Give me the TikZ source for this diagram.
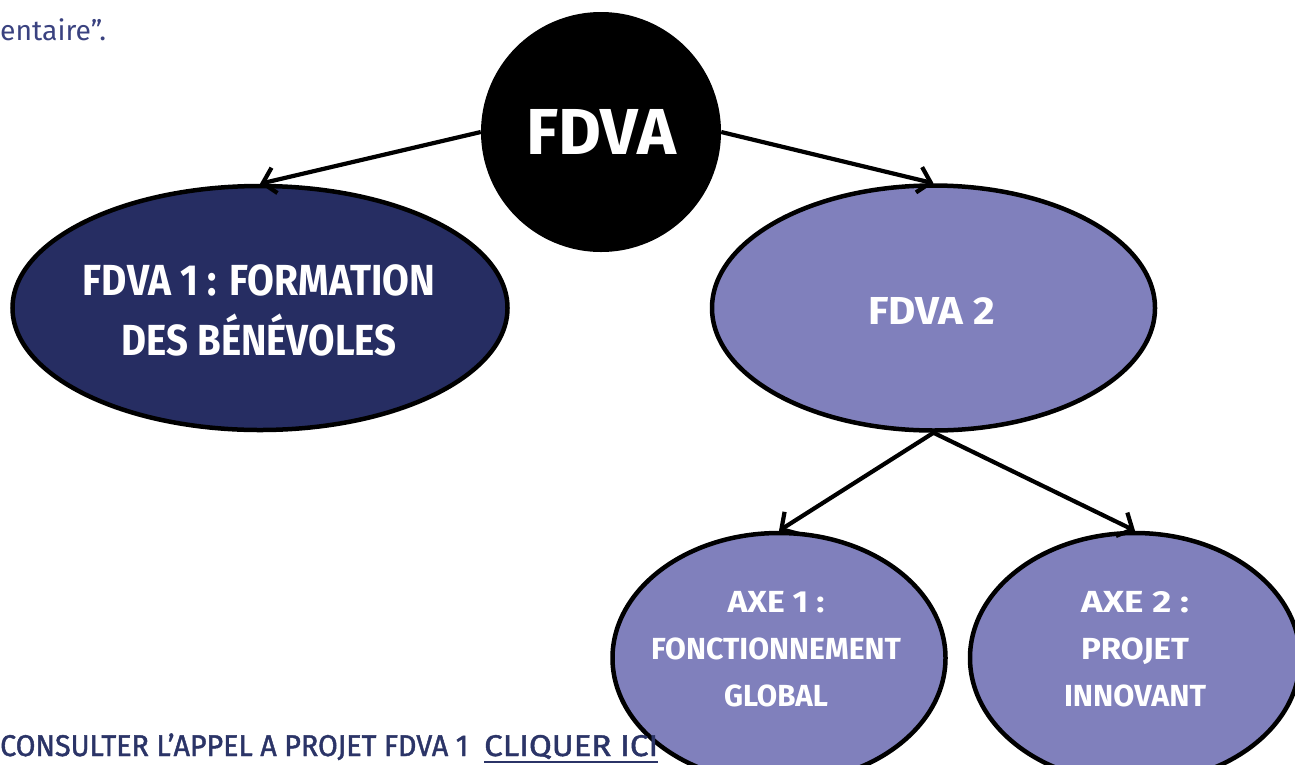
\documentclass[tikz,border=0pt]{standalone}
\usepackage{graphicx}
\usepackage{fontspec}
\setmainfont{Fira Sans}
\newfontfamily\footfont{Fira Sans}[FakeBold=1.5]
\usetikzlibrary{shapes.geometric,arrows.meta}
\definecolor{navy}{RGB}{38,45,98}
\definecolor{lav}{RGB}{128,128,188}
\definecolor{ink}{RGB}{43,52,103}
\definecolor{inklight}{RGB}{58,66,128}
\newcommand{\fitw}[2]{\resizebox{#1}{\height}{#2}}
\tikzset{
  bubble/.style={ellipse, draw=black, line width=4.5pt, inner sep=0pt},
  btext/.style={text=white, align=center, inner sep=0pt},
  conn/.style={line width=4.2pt, -{Straight Barb[length=12pt,width=26pt,line width=4.2pt]}},
  foot/.style={anchor=base west, inner sep=0pt, text=ink, font=\footfont\fontsize{30pt}{30pt}\selectfont},
}
\begin{document}
\begin{tikzpicture}[x={(1pt,0)}, y={(0,-1pt)}]
\clip (0,0) rectangle (1295,764);
\fill[white] (0,0) rectangle (1295,764);

\node[anchor=base west, inner sep=0pt, text=inklight, font=\fontsize{28pt}{28pt}\selectfont] (top) at (0,40) {\fitw{106pt}{entaire”.}};

\node[circle, fill=black, minimum size=240pt, inner sep=0pt, text=white,
      font=\fontsize{65pt}{65pt}\selectfont\bfseries] (fdva) at (601,132) {\fitw{150pt}{FDVA}};

\node[bubble, fill=navy, minimum width=495pt, minimum height=244pt] (f1) at (260,308) {};
\node[btext, font=\fontsize{43.5pt}{60pt}\selectfont\bfseries] (f1t) at (259,310)
  {\fitw{352pt}{FDVA 1 : FORMATION}\\\fitw{275pt}{DES BÉNÉVOLES}};

\node[bubble, fill=lav, minimum width=443pt, minimum height=245pt] (f2) at (933.5,308) {};
\node[btext, font=\fontsize{39pt}{39pt}\selectfont\bfseries] (f2t) at (931.5,311)
  {\fitw{127pt}{FDVA 2}};

\node[bubble, fill=lav, minimum width=333pt, minimum height=250pt] (a1) at (779,658) {};
\node[btext, font=\fontsize{30.5pt}{47pt}\selectfont\bfseries] (a1t) at (776,649)
  {\fitw{97pt}{AXE 1 :}\\\fitw{250pt}{FONCTIONNEMENT}\\\fitw{104pt}{GLOBAL}};

\node[bubble, fill=lav, minimum width=330pt, minimum height=250pt] (a2) at (1135,658) {};
\node[btext, font=\fontsize{30.5pt}{47pt}\selectfont\bfseries] (a2t) at (1135,649)
  {\fitw{108pt}{AXE 2 :}\\\fitw{108pt}{PROJET}\\\fitw{142pt}{INNOVANT}};

\draw[conn] (fdva.west) -- (f1.north);
\draw[conn] (fdva.east) -- (f2.north);
\draw[conn] (f2.south) -- (a1.north);
\draw[conn] (f2.south) -- (a2.north);

\node[foot] (consult) at (0,756) {\fitw{468pt}{CONSULTER L’APPEL A PROJET FDVA 1}};
\node[foot] (click) at (484,756) {\fitw{174pt}{CLIQUER ICI}};
\draw[ink, line width=2.5pt] ([yshift=-6pt]click.base west) -- ([yshift=-6pt]click.base east);
\end{tikzpicture}
\end{document}
